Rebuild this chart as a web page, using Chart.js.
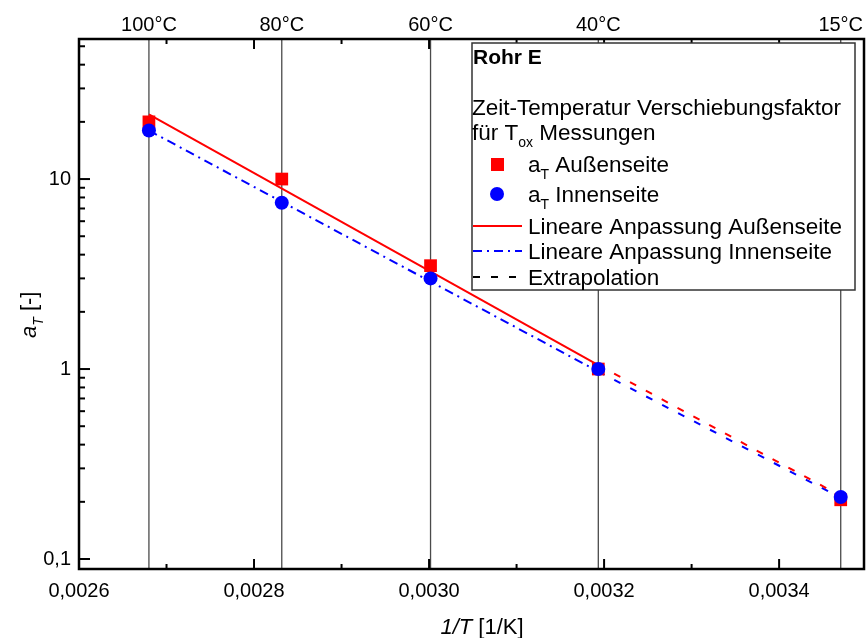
<!DOCTYPE html>
<html lang="de">
<head>
<meta charset="UTF-8">
<title>Rohr E - Verschiebungsfaktor</title>
<script src="https://cdn.jsdelivr.net/npm/chart.js"></script>
<style>
  body { margin: 0; background: #fff; }
</style>
</head>
<body>
<canvas id="myChart" width="866" height="638"></canvas>
<script>
// 1/T of the measuring temperatures (top axis)
const invT = [0.0026799, 0.0028317, 0.0030017, 0.0031934, 0.0034704];
const tempLabels = ['100°C', '80°C', '60°C', '40°C', '15°C'];

// shift factors
const aussen = [20.0, 10.0, 3.5, 1.0, 0.205];
const innen = [18.0, 7.5, 3.0, 1.0, 0.212];

// fit lines (100°C -> 40°C) and extrapolation (40°C -> 15°C)
const fitAussen = [21.9, 1.05];
const fitInnen = [18.0, 0.97];
const extraAussen = [1.05, 0.215];
const extraInnen = [0.97, 0.21];

// axis ticks
const xTicks = [0.0026, 0.0028, 0.0030, 0.0032, 0.0034];
const xTickLabels = ['0,0026', '0,0028', '0,0030', '0,0032', '0,0034'];
const xMinor = [0.0027, 0.0029, 0.0031, 0.0033];
const yTicks = [0.1, 1, 10];
const yTickLabels = ['0,1', '1', '10'];

const FONT = "'Liberation Sans', Arial, sans-serif";

function pts(xs, ys) {
  return xs.map((x, i) => ({ x: x, y: ys[i] }));
}

// text with a subscript part, e.g. a + T
function drawSub(ctx, x, y, parts, size) {
  // parts: [{t, sub, italic}]
  let cx = x;
  parts.forEach(p => {
    const fs = p.sub ? Math.round(size * 0.62) : size;
    ctx.font = (p.italic ? 'italic ' : '') + fs + 'px ' + FONT;
    ctx.fillText(p.t, cx, p.sub ? y + size * 0.3 : y);
    cx += ctx.measureText(p.t).width;
  });
  return cx - x;
}

const framePlugin = {
  id: 'frame',
  beforeDatasetsDraw(chart) {
    const { ctx, chartArea: a, scales: { x } } = chart;
    ctx.save();
    ctx.strokeStyle = '#4a4a4a';
    ctx.lineWidth = 1.3;
    invT.forEach(v => {
      const px = x.getPixelForValue(v);
      ctx.beginPath();
      ctx.moveTo(px, a.top);
      ctx.lineTo(px, a.bottom);
      ctx.stroke();
    });
    ctx.restore();
  },
  afterDraw(chart) {
    const { ctx, chartArea: a, scales: { x, y } } = chart;
    ctx.save();
    ctx.strokeStyle = '#000';
    ctx.fillStyle = '#000';

    // ticks (pointing inwards)
    ctx.lineWidth = 2;
    const tick = (x1, y1, x2, y2) => { ctx.beginPath(); ctx.moveTo(x1, y1); ctx.lineTo(x2, y2); ctx.stroke(); };
    xTicks.forEach(v => {
      const px = x.getPixelForValue(v);
      tick(px, a.bottom, px, a.bottom - 10);
      tick(px, a.top, px, a.top + 10);
    });
    xMinor.forEach(v => {
      const px = x.getPixelForValue(v);
      tick(px, a.bottom, px, a.bottom - 5);
      tick(px, a.top, px, a.top + 5);
    });
    yTicks.forEach(v => {
      const py = y.getPixelForValue(v);
      tick(a.left, py, a.left + 11, py);
    });
    [0.1, 1, 10].forEach(dec => {
      for (let m = 2; m <= 9; m++) {
        const v = dec * m;
        if (v > y.max) break;
        const py = y.getPixelForValue(v);
        tick(a.left, py, a.left + 6, py);
      }
    });

    // frame
    ctx.lineWidth = 2.5;
    ctx.strokeRect(a.left, a.top, a.right - a.left, a.bottom - a.top);

    // tick labels
    ctx.font = '20px ' + FONT;
    ctx.textAlign = 'center';
    ctx.textBaseline = 'middle';
    xTicks.forEach((v, i) => ctx.fillText(xTickLabels[i], x.getPixelForValue(v), a.bottom + 22));
    invT.forEach((v, i) => ctx.fillText(tempLabels[i], x.getPixelForValue(v), a.top - 14));
    ctx.textAlign = 'right';
    yTicks.forEach((v, i) => ctx.fillText(yTickLabels[i], a.left - 8, y.getPixelForValue(v)));

    // axis titles
    ctx.textAlign = 'left';
    ctx.textBaseline = 'alphabetic';
    ctx.font = 'italic 22px ' + FONT;
    const w1 = ctx.measureText('1/T').width;
    ctx.font = '22px ' + FONT;
    const w2 = ctx.measureText(' [1/K]').width;
    let tx = 482 - (w1 + w2) / 2;
    drawSub(ctx, tx, 634, [{ t: '1/T', italic: true }, { t: ' [1/K]' }], 22);

    ctx.save();
    ctx.translate(36, 316);
    ctx.rotate(-Math.PI / 2);
    drawSub(ctx, -22, 0, [{ t: 'a', italic: true }, { t: 'T', sub: true, italic: true }, { t: ' [-]' }], 22);
    ctx.restore();

    // legend box
    const lx = 472, ly = 43, lw = 383, lh = 247;
    ctx.fillStyle = '#fff';
    ctx.fillRect(lx, ly, lw, lh);
    ctx.strokeStyle = '#333';
    ctx.lineWidth = 1.5;
    ctx.strokeRect(lx, ly, lw, lh);

    const LF = 22.5;
    ctx.fillStyle = '#000';
    ctx.textBaseline = 'alphabetic';
    ctx.font = 'bold 21px ' + FONT;
    ctx.fillText('Rohr E', lx + 1, 64);
    ctx.font = LF + 'px ' + FONT;
    ctx.fillText('Zeit-Temperatur Verschiebungsfaktor', lx, 115);
    drawSub(ctx, lx, 140, [{ t: 'für T' }, { t: 'ox', sub: true }, { t: ' Messungen' }], LF);

    const tx0 = 528;
    // marker samples
    ctx.fillStyle = '#ff0000';
    ctx.fillRect(491, 158, 13, 13);
    ctx.fillStyle = '#0000ff';
    ctx.beginPath();
    ctx.arc(497, 194, 7, 0, Math.PI * 2);
    ctx.fill();
    ctx.fillStyle = '#000';
    drawSub(ctx, tx0, 172, [{ t: 'a' }, { t: 'T', sub: true }, { t: ' Außenseite' }], LF);
    drawSub(ctx, tx0, 202, [{ t: 'a' }, { t: 'T', sub: true }, { t: ' Innenseite' }], LF);

    // line samples
    const sample = (yy, color, dash) => {
      ctx.strokeStyle = color;
      ctx.lineWidth = 2;
      ctx.setLineDash(dash);
      ctx.beginPath();
      ctx.moveTo(lx + 1, yy);
      ctx.lineTo(522, yy);
      ctx.stroke();
      ctx.setLineDash([]);
    };
    sample(226, '#ff0000', []);
    sample(251, '#0000ff', [9, 5, 2, 5]);
    sample(277, '#000', [7, 11]);
    ctx.font = LF + 'px ' + FONT;
    ctx.fillText('Lineare Anpassung Außenseite', tx0, 234);
    ctx.fillText('Lineare Anpassung Innenseite', tx0, 259);
    ctx.fillText('Extrapolation', tx0, 285);

    ctx.restore();
  }
};

const ctx = document.getElementById('myChart');
new Chart(ctx, {
  type: 'scatter',
  data: {
    datasets: [
      {
        label: 'a_T Innenseite',
        data: pts(invT, innen),
        backgroundColor: '#0000ff',
        borderColor: '#0000ff',
        pointStyle: 'circle',
        pointRadius: 7,
        borderWidth: 0,
        order: 0
      },
      {
        label: 'a_T Außenseite',
        data: pts(invT, aussen),
        backgroundColor: '#ff0000',
        borderColor: '#ff0000',
        pointStyle: 'rect',
        pointRadius: 9,
        borderWidth: 0,
        order: 1
      },
      {
        label: 'Lineare Anpassung Außenseite',
        data: pts([invT[0], invT[3]], fitAussen),
        showLine: true,
        borderColor: '#ff0000',
        borderWidth: 2,
        pointRadius: 0,
        order: 2
      },
      {
        label: 'Lineare Anpassung Innenseite',
        data: pts([invT[0], invT[3]], fitInnen),
        showLine: true,
        borderColor: '#0000ff',
        borderWidth: 2,
        borderDash: [9, 5, 2, 5],
        pointRadius: 0,
        order: 3
      },
      {
        label: 'Extrapolation Außenseite',
        data: pts([invT[3], invT[4]], extraAussen),
        showLine: true,
        borderColor: '#ff0000',
        borderWidth: 2,
        borderDash: [7, 11],
        pointRadius: 0,
        order: 4
      },
      {
        label: 'Extrapolation Innenseite',
        data: pts([invT[3], invT[4]], extraInnen),
        showLine: true,
        borderColor: '#0000ff',
        borderWidth: 2,
        borderDash: [7, 11],
        pointRadius: 0,
        order: 5
      }
    ]
  },
  options: {
    responsive: false,
    animation: false,
    layout: { autoPadding: false, padding: { left: 79, right: 2, top: 39, bottom: 69 } },
    plugins: { legend: { display: false }, tooltip: { enabled: false } },
    scales: {
      x: { type: 'linear', min: 0.0026, max: 0.003497, display: false },
      y: { type: 'logarithmic', min: 0.0886, max: 54.6, display: false }
    }
  },
  plugins: [framePlugin]
});
</script>
</body>
</html>
